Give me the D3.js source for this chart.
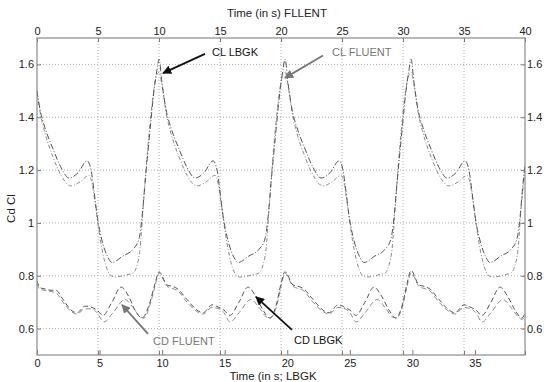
<!DOCTYPE html>
<html><head><meta charset="utf-8">
<script src="https://cdn.jsdelivr.net/npm/d3@7"></script>
<style>
html,body{margin:0;padding:0;background:#fff;}
text{font-family:"Liberation Sans",Arial,sans-serif;}
</style></head>
<body><svg id="c" width="544" height="382"></svg>
<script>
// ---- data ----
const topTicks = [0,5,10,15,20,25,30,35,40];          // FLUENT time axis (s)
const bottomTicks = [0,5,10,15,20,25,30,35];          // LBGK time axis (s)
const yTicks = [0.6,0.8,1.0,1.2,1.4,1.6];

// CL LBGK (bottom axis time)
const clLbgkT = [0.00,0.24,0.64,1.28,1.92,2.56,3.28,4.00,4.32,4.56,4.80,5.27,5.67,5.99,6.87,7.67,8.15,8.39,8.63,9.03,9.35,9.59,9.75,
 9.99,10.31,10.71,11.35,11.99,12.63,13.35,14.07,14.39,14.62,14.86,15.34,15.74,16.06,16.94,17.74,18.22,18.46,18.70,19.10,19.42,19.66,19.82,
 20.06,20.38,20.78,21.42,22.06,22.70,23.42,24.14,24.45,24.69,24.93,25.41,25.81,26.13,27.01,27.81,28.29,28.53,28.77,29.17,29.49,29.73,29.89,
 30.13,30.45,30.85,31.49,32.13,32.77,33.49,34.20,34.52,34.76,35.00,35.48,35.88,36.20,37.08,37.88,38.36,38.60,38.84,39.00];
const clLbgk = [1.50,1.43,1.36,1.28,1.21,1.17,1.19,1.235,1.20,1.12,1.03,0.92,0.87,0.85,0.875,0.90,0.94,1.02,1.15,1.35,1.50,1.58,1.62,
 1.53,1.43,1.36,1.28,1.21,1.17,1.19,1.235,1.20,1.12,1.03,0.92,0.87,0.85,0.875,0.90,0.94,1.02,1.15,1.35,1.50,1.58,1.62,
 1.53,1.43,1.36,1.28,1.21,1.17,1.19,1.235,1.20,1.12,1.03,0.92,0.87,0.85,0.875,0.90,0.94,1.02,1.15,1.35,1.50,1.58,1.62,
 1.53,1.43,1.36,1.28,1.21,1.17,1.19,1.235,1.20,1.12,1.03,0.92,0.87,0.85,0.875,0.90,0.94,1.02,1.15,1.22];

// CL FLUENT (top axis time)
const clFluentT = [0.00,0.25,0.66,1.31,1.97,2.79,3.52,4.26,4.51,4.75,5.08,5.57,6.07,6.39,7.46,7.87,8.20,8.44,8.69,9.02,9.43,9.75,10.00,
 10.25,10.57,10.98,11.64,12.30,13.11,13.85,14.59,14.84,15.08,15.41,15.90,16.39,16.72,17.79,18.20,18.52,18.77,19.02,19.34,19.75,20.08,20.33,
 20.58,20.90,21.31,21.97,22.63,23.44,24.18,24.92,25.17,25.41,25.74,26.23,26.72,27.05,28.12,28.53,28.85,29.10,29.35,29.67,30.08,30.41,30.66,
 30.91,31.23,31.64,32.30,32.96,33.77,34.51,35.25,35.50,35.74,36.07,36.56,37.05,37.38,38.44,38.85,39.18,39.43,39.67,40.00];
const clFluent = [1.495,1.42,1.34,1.25,1.18,1.14,1.155,1.18,1.15,1.08,0.97,0.85,0.80,0.795,0.805,0.81,0.84,0.90,1.05,1.25,1.45,1.55,1.57,
 1.52,1.42,1.34,1.25,1.18,1.14,1.155,1.18,1.15,1.08,0.97,0.85,0.80,0.795,0.805,0.81,0.84,0.90,1.05,1.25,1.45,1.55,1.57,
 1.52,1.42,1.34,1.25,1.18,1.14,1.155,1.18,1.15,1.08,0.97,0.85,0.80,0.795,0.805,0.81,0.84,0.90,1.05,1.25,1.45,1.55,1.57,
 1.52,1.42,1.34,1.25,1.18,1.14,1.155,1.18,1.15,1.08,0.97,0.85,0.80,0.795,0.805,0.81,0.84,0.90,1.05,1.20];

// CD LBGK (bottom axis time)
const cdLbgkT = [0.00,0.24,0.64,1.12,1.52,2.08,2.72,3.20,3.84,4.40,4.80,5.27,5.99,6.71,7.35,7.83,8.39,9.03,9.43,9.75,
 10.39,10.79,11.19,11.99,12.79,13.27,13.99,14.55,14.94,15.42,16.14,16.86,17.50,18.06,18.62,19.18,19.50,19.82,
 20.46,20.86,21.26,22.06,22.86,23.34,24.06,24.62,25.01,25.49,26.21,26.93,27.57,28.13,28.69,29.25,29.57,29.89,
 30.53,30.93,31.33,32.13,32.93,33.41,34.13,34.69,35.08,35.56,36.28,37.00,37.64,38.20,38.76,39.00];
const cdLbgk = [0.78,0.755,0.75,0.745,0.745,0.71,0.67,0.66,0.685,0.68,0.67,0.65,0.70,0.757,0.72,0.67,0.64,0.70,0.77,0.815,
 0.765,0.76,0.752,0.71,0.67,0.66,0.69,0.68,0.67,0.65,0.70,0.757,0.72,0.67,0.64,0.70,0.77,0.815,
 0.765,0.76,0.752,0.71,0.67,0.66,0.69,0.68,0.67,0.65,0.70,0.757,0.72,0.67,0.64,0.70,0.77,0.82,
 0.765,0.76,0.752,0.71,0.67,0.66,0.69,0.68,0.67,0.65,0.70,0.757,0.72,0.67,0.64,0.66];

// CD FLUENT (top axis time)
const cdFluentT = [0.00,0.25,0.66,1.15,1.56,2.13,2.79,3.28,3.93,4.51,4.92,5.49,6.23,7.21,7.87,8.44,8.77,9.26,9.67,10.00,
 10.66,11.07,11.48,12.30,13.11,13.61,14.34,14.92,15.33,15.82,16.56,17.54,18.20,18.77,19.10,19.67,20.00,20.33,
 20.98,21.39,21.80,22.62,23.44,23.93,24.67,25.25,25.66,26.15,26.89,27.87,28.53,29.10,29.43,30.00,30.33,30.66,
 31.31,31.72,32.13,32.95,33.77,34.26,35.00,35.57,35.98,36.48,37.21,38.20,38.85,39.43,39.75,40.00];
const cdFluent = [0.77,0.748,0.745,0.74,0.735,0.70,0.665,0.655,0.675,0.675,0.66,0.625,0.66,0.71,0.68,0.645,0.64,0.69,0.76,0.81,
 0.76,0.752,0.745,0.70,0.665,0.655,0.68,0.675,0.66,0.625,0.66,0.71,0.68,0.645,0.64,0.69,0.76,0.81,
 0.76,0.752,0.745,0.70,0.665,0.655,0.68,0.675,0.66,0.625,0.66,0.71,0.68,0.645,0.64,0.69,0.76,0.81,
 0.76,0.752,0.745,0.70,0.665,0.655,0.68,0.675,0.66,0.625,0.66,0.71,0.68,0.645,0.635,0.645];

// annotations, in top-axis time / value units
const annotations = [
  {label:"CL LBGK",   color:"#111", tx:14.34, ty:1.645, x0:13.77, y0:1.640, x1:10.33, y1:1.567},
  {label:"CL FLUENT", color:"#777", tx:24.18, ty:1.645, x0:23.44, y0:1.634, x1:20.33, y1:1.549},
  {label:"CD FLUENT", color:"#777", tx:9.51,  ty:0.553, x0:9.10,  y0:0.580, x1:6.97,  y1:0.690},
  {label:"CD LBGK",   color:"#111", tx:21.07, ty:0.557, x0:20.90, y0:0.595, x1:17.95, y1:0.720}
];

// ---- chart ----
const L = 37, R = 525, T = 38, B = 355;
const svg = d3.select("#c");
const xTop = d3.scaleLinear().domain([0,40]).range([L,R]);
const xBot = d3.scaleLinear().domain([0,39]).range([L,R]);
const y = d3.scaleLinear().domain([0.5,1.7]).range([B,T]);

// grid
const grid = svg.append("g").attr("stroke","#9a9a9a").attr("stroke-width",0.8).attr("stroke-dasharray","1,2");
grid.selectAll("line.h").data(yTicks).join("line")
  .attr("x1",L).attr("x2",R).attr("y1",d=>y(d)).attr("y2",d=>y(d));
grid.selectAll("line.v").data(topTicks.slice(1,-1)).join("line")
  .attr("x1",d=>xTop(d)).attr("x2",d=>xTop(d)).attr("y1",T).attr("y2",B);

// curves
svg.append("defs").append("clipPath").attr("id","pc").append("rect")
  .attr("x",L).attr("y",T).attr("width",R-L).attr("height",B-T);
const series = [
  {t:clFluentT, v:clFluent, sx:xTop, color:"#8c8c8c", dash:"4,2,1,2"},
  {t:clLbgkT,   v:clLbgk,   sx:xBot, color:"#555555", dash:"6,2,1,2"},
  {t:cdFluentT, v:cdFluent, sx:xTop, color:"#8c8c8c", dash:"5,3"},
  {t:cdLbgkT,   v:cdLbgk,   sx:xBot, color:"#555555", dash:"5,3"}
];
const gc = svg.append("g").attr("clip-path","url(#pc)");
series.forEach(s=>{
  const line = d3.line().x((d,i)=>s.sx(s.t[i])).y(d=>y(d)).curve(d3.curveMonotoneX);
  gc.append("path").attr("d",line(s.v)).attr("fill","none")
    .attr("stroke",s.color).attr("stroke-width",1).attr("stroke-dasharray",s.dash);
});

// axes
const fontSize = "11px";
function style(g){
  g.select(".domain").remove();
  g.selectAll(".tick line").attr("stroke","#777");
  g.selectAll(".tick text").attr("fill","#222").style("font-size",fontSize);
}
const fmt = d=>d3.format("")(+d.toFixed(1));
svg.append("g").attr("transform",`translate(0,${T})`)
  .call(d3.axisTop(xTop).tickValues(topTicks).tickSize(-4).tickPadding(3).tickFormat(fmt)).call(style);
svg.append("g").attr("transform",`translate(0,${B})`)
  .call(d3.axisBottom(xBot).tickValues(bottomTicks).tickSize(-5).tickPadding(4).tickFormat(fmt)).call(style);
// mirrored top-axis ticks at bottom
svg.append("g").attr("transform",`translate(0,${B})`)
  .call(d3.axisBottom(xTop).tickValues(topTicks).tickSize(-4).tickFormat("")).call(style);
svg.append("g").attr("transform",`translate(${L},0)`)
  .call(d3.axisLeft(y).tickValues(yTicks).tickSize(-4).tickPadding(3).tickFormat(fmt)).call(style);
svg.append("g").attr("transform",`translate(${R},0)`)
  .call(d3.axisRight(y).tickValues(yTicks).tickSize(-4).tickPadding(2).tickFormat(fmt)).call(style);

// frame
svg.append("rect").attr("x",L).attr("y",T).attr("width",R-L).attr("height",B-T)
  .attr("fill","none").attr("stroke","#8a8a8a").attr("stroke-width",1.2);

// titles
svg.append("text").attr("x",(L+R)/2-4).attr("y",17).attr("text-anchor","middle")
  .style("font-size","11.5px").attr("fill","#222").text("Time (in s) FLLENT");
svg.append("text").attr("x",(L+R)/2-8).attr("y",380).attr("text-anchor","middle")
  .style("font-size","11.5px").attr("fill","#222").text("Time (in s; LBGK");
svg.append("text").attr("transform",`translate(15,${(T+B)/2+12}) rotate(-90)`).attr("text-anchor","middle")
  .style("font-size","11.5px").attr("fill","#222").text("Cd  Cl");

// annotations
const defs = svg.select("defs");
annotations.forEach((a,i)=>{
  defs.append("marker").attr("id","ah"+i).attr("viewBox","0 0 10 10").attr("refX",9).attr("refY",5)
    .attr("markerWidth",5).attr("markerHeight",5).attr("markerUnits","strokeWidth").attr("orient","auto")
    .append("path").attr("d","M0,0L10,5L0,10z").attr("fill",a.color);
  svg.append("line").attr("x1",xTop(a.x0)).attr("y1",y(a.y0)).attr("x2",xTop(a.x1)).attr("y2",y(a.y1))
    .attr("stroke",a.color).attr("stroke-width",1.8).attr("marker-end",`url(#ah${i})`);
  svg.append("text").attr("x",xTop(a.tx)).attr("y",y(a.ty)).attr("dy","0.35em")
    .style("font-size","11px").attr("fill",a.color).text(a.label);
});
</script></body></html>
